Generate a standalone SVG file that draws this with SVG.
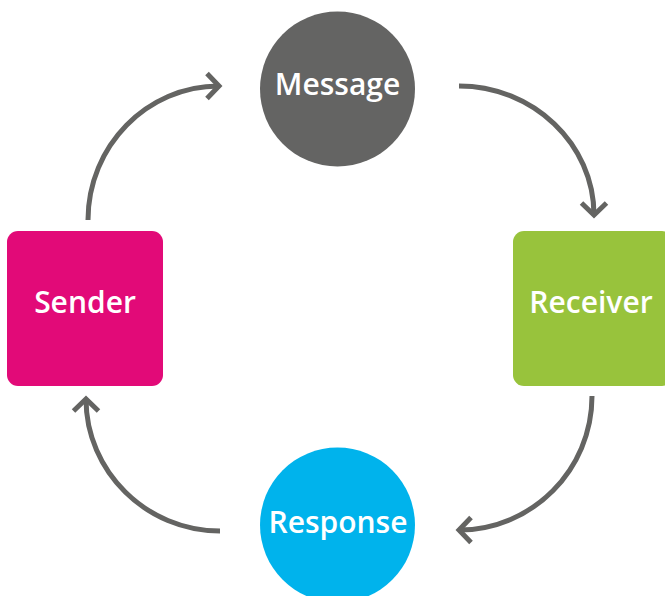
<svg xmlns="http://www.w3.org/2000/svg" width="665" height="596" viewBox="0 0 665 596">
<defs>
<style>
.lbl{font-family:"Open Sans","Noto Sans","Liberation Sans",sans-serif;font-weight:600;font-size:30px;fill:#fff;text-anchor:middle}
.con{fill:none;stroke:#646462;stroke-width:5}
</style>
<marker id="ah" markerUnits="userSpaceOnUse" markerWidth="40" markerHeight="40" viewBox="-20 -20 40 40" refX="0" refY="0" orient="auto" overflow="visible">
<path d="M-12,-12.5 L0,0 L-12,12.5" fill="none" stroke="#646462" stroke-width="5"/>
</marker>
</defs>
<rect width="665" height="596" fill="#fff"/>
<g id="connectors">
<path class="con" d="M88,220 C88,146 147,86 219,86" marker-end="url(#ah)"/>
<path class="con" d="M459,86 C533,86 594,144 594,215" marker-end="url(#ah)"/>
<path class="con" d="M592,396 C592,470 532,530 459,530" marker-end="url(#ah)"/>
<path class="con" d="M220,531 C146,531 86,471 86,399" marker-end="url(#ah)"/>
</g>
<g id="message">
<circle cx="337.5" cy="89" r="77.5" fill="#646463"/>
<text class="lbl" x="337.5" y="95">Message</text>
</g>
<g id="sender">
<rect x="7" y="231" width="156" height="155" rx="11" fill="#E20A78"/>
<text class="lbl" x="85" y="313">Sender</text>
</g>
<g id="receiver">
<rect x="513" y="231" width="160" height="155" rx="11" fill="#98C33C"/>
<text class="lbl" x="591" y="313">Receiver</text>
</g>
<g id="response">
<circle cx="337.5" cy="525" r="77.5" fill="#00B3EC"/>
<text class="lbl" x="338" y="533">Response</text>
</g>
</svg>
